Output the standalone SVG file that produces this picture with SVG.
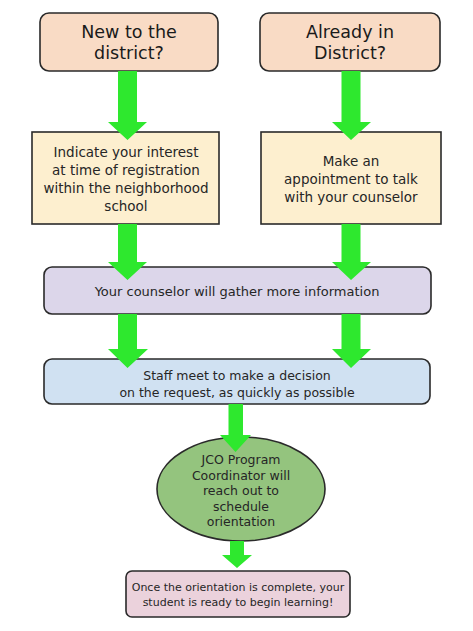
<svg xmlns="http://www.w3.org/2000/svg" width="473" height="631" viewBox="0 0 473 631">
<style>
text{font-family:"DejaVu Sans","Liberation Sans",sans-serif;fill:#262626;text-anchor:middle}
.box{stroke:#2a2a2a;stroke-width:1.6}
.arrow{fill:#2ee82e}
.big{font-size:17.5px;fill:#1a1a1a}
</style>
<rect width="473" height="631" fill="#ffffff"/>
<g id="new-district">
<rect class="box" x="40" y="13" width="178" height="58" rx="9" fill="#f9dbc5"/>
<text class="big" x="129" y="38">New to the</text>
<text class="big" x="129" y="59">district?</text>
</g>
<g id="already-district">
<rect class="box" x="260" y="13" width="180" height="58" rx="9" fill="#f9dbc5"/>
<text class="big" x="350" y="38">Already in</text>
<text class="big" x="350" y="59">District?</text>
</g>
<g id="indicate-interest">
<rect class="box" x="32" y="132" width="187" height="92" fill="#fdefcf"/>
<text x="126" y="157" font-size="13.5">Indicate your interest</text>
<text x="126" y="175" font-size="13.5">at time of registration</text>
<text x="126" y="193" font-size="13.5">within the neighborhood</text>
<text x="126" y="211" font-size="13.5">school</text>
</g>
<g id="make-appointment">
<rect class="box" x="261" y="132" width="180" height="92" fill="#fdefcf"/>
<text x="351" y="166" font-size="13.5">Make an</text>
<text x="351" y="184" font-size="13.5">appointment to talk</text>
<text x="351" y="202" font-size="13.5">with your counselor</text>
</g>
<g id="gather-info">
<rect class="box" x="44" y="267" width="387" height="47" rx="8" fill="#dcd6ea"/>
<text x="237" y="296" font-size="13">Your counselor will gather more information</text>
</g>
<g id="staff-meet">
<rect class="box" x="44" y="359" width="386" height="45" rx="8" fill="#d0e1f2"/>
<text x="237" y="380" font-size="12.5">Staff meet to make a decision</text>
<text x="237" y="397" font-size="12.5">on the request, as quickly as possible</text>
</g>
<g id="coordinator">
<ellipse class="box" cx="241" cy="489" rx="84" ry="52" fill="#94c47e" stroke-width="1.2"/>
<text x="241" y="464" font-size="12.5">JCO Program</text>
<text x="241" y="480" font-size="12.5">Coordinator will</text>
<text x="241" y="495" font-size="12.5">reach out to</text>
<text x="241" y="511" font-size="12.5">schedule</text>
<text x="241" y="526" font-size="12.5">orientation</text>
</g>
<g id="ready-learning">
<rect class="box" x="126" y="571" width="224" height="46" rx="6" fill="#ebd2dc"/>
<text x="238" y="591" font-size="11">Once the orientation is complete, your</text>
<text x="238" y="606" font-size="11">student is ready to begin learning!</text>
</g>
<g id="connectors">
<polygon class="arrow" points="118,71 137,71 137,122 147,122 127.5,140 108,122 118,122"/>
<polygon class="arrow" points="341.5,71 360.5,71 360.5,122 371,122 351,140 332,122 341.5,122"/>
<polygon class="arrow" points="118,224 137,224 137,262 147,262 127.5,280 108,262 118,262"/>
<polygon class="arrow" points="341.5,224 360.5,224 360.5,262 371,262 351,280 332,262 341.5,262"/>
<polygon class="arrow" points="118,314 137,314 137,349 148,349 127.5,368 108,349 118,349"/>
<polygon class="arrow" points="341.5,314 360.5,314 360.5,349 371,349 351,368 332,349 341.5,349"/>
<polygon class="arrow" points="228.5,404 243,404 243,435 251,435 235.5,452 220,435 228.5,435"/>
<polygon class="arrow" points="230,541 244,541 244,555 252,555 237,568 222,555 230,555"/>
</g>
</svg>
